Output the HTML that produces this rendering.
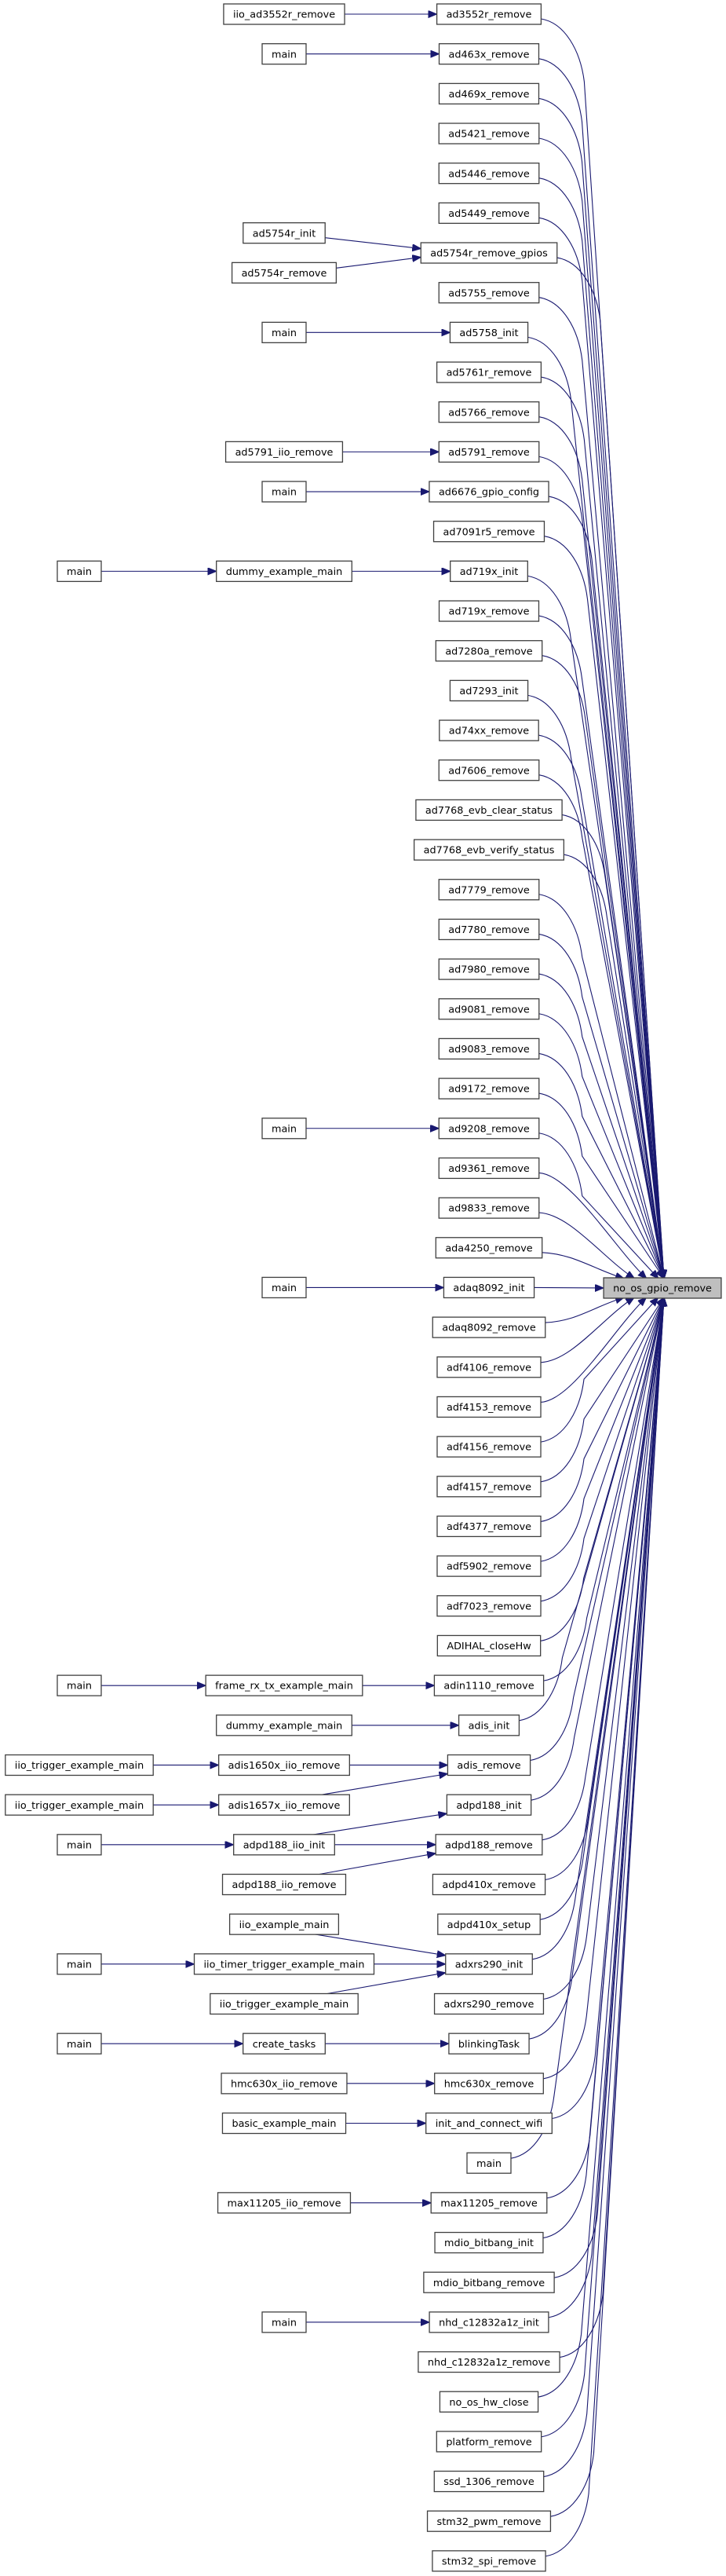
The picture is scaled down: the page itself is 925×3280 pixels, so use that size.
<!DOCTYPE html>
<html><head><meta charset="utf-8"><style>
html,body{margin:0;padding:0;background:#fff;}
svg{display:block;}
text{font-family:"DejaVu Sans","Liberation Sans",sans-serif;font-size:12.8px;fill:#000;}
</style></head><body>
<svg id="g" width="925" height="3280" viewBox="0 0 925 3280" xmlns="http://www.w3.org/2000/svg">
<defs><marker id="ah" markerUnits="userSpaceOnUse" markerWidth="12" markerHeight="10" refX="11" refY="4.5" orient="auto"><path d="M0,0 L11,4.5 L0,9 z" fill="#191970" stroke="#191970"/></marker></defs>
<g id="edges" fill="none" stroke="#191970" stroke-width="1.1"></g>
<g id="nodes"></g>
</svg>
<script>
var NS="http://www.w3.org/2000/svg";
function Y(r){return 18+50.67*r;}
var main=["ad3552r_remove","ad463x_remove","ad469x_remove","ad5421_remove","ad5446_remove","ad5449_remove","ad5754r_remove_gpios","ad5755_remove","ad5758_init","ad5761r_remove","ad5766_remove","ad5791_remove","ad6676_gpio_config","ad7091r5_remove","ad719x_init","ad719x_remove","ad7280a_remove","ad7293_init","ad74xx_remove","ad7606_remove","ad7768_evb_clear_status","ad7768_evb_verify_status","ad7779_remove","ad7780_remove","ad7980_remove","ad9081_remove","ad9083_remove","ad9172_remove","ad9208_remove","ad9361_remove","ad9833_remove","ada4250_remove","adaq8092_init","adaq8092_remove","adf4106_remove","adf4153_remove","adf4156_remove","adf4157_remove","adf4377_remove","adf5902_remove","adf7023_remove","ADIHAL_closeHw","adin1110_remove","adis_init","adis_remove","adpd188_init","adpd188_remove","adpd410x_remove","adpd410x_setup","adxrs290_init","adxrs290_remove","blinkingTask","hmc630x_remove","init_and_connect_wifi","main","max11205_remove","mdio_bitbang_init","mdio_bitbang_remove","nhd_c12832a1z_init","nhd_c12832a1z_remove","no_os_hw_close","platform_remove","ssd_1306_remove","stm32_pwm_remove","stm32_spi_remove"];
var nodes={};var nodeG=document.getElementById("nodes"),edgeG=document.getElementById("edges");
function addNode(id,label,cx,cy,fill){
  var t=document.createElementNS(NS,"text");t.textContent=label;
  t.setAttribute("x",cx);t.setAttribute("y",cy+4.6);t.setAttribute("text-anchor","middle");
  nodeG.appendChild(t);
  var w=t.getComputedTextLength()+24;
  var r=document.createElementNS(NS,"rect");
  r.setAttribute("x",cx-w/2);r.setAttribute("y",cy-13);r.setAttribute("width",w);r.setAttribute("height",26);
  r.setAttribute("fill",fill||"#fff");r.setAttribute("stroke","#404040");r.setAttribute("stroke-width","1.3");
  nodeG.insertBefore(r,t);
  nodes[id]={l:cx-w/2,r:cx+w/2,y:cy};
}
function path(d){var p=document.createElementNS(NS,"path");p.setAttribute("d",d);p.setAttribute("marker-end","url(#ah)");edgeG.appendChild(p);}
addNode("T","no_os_gpio_remove",844,1640,"#bfbfbf");
main.forEach(function(n,i){addNode("m"+i,n,623,Y(i));});
// side nodes: [id,label,cx,row,targets]
var C2=362,C3=101;
var side=[
["a","iio_ad3552r_remove",C2,0,["m0"]],
["b","main",C2,1,["m1"]],
["c","ad5754r_init",C2,5.5,["m6"]],
["d","ad5754r_remove",C2,6.5,["m6"]],
["e","main",C2,8,["m8"]],
["f","ad5791_iio_remove",C2,11,["m11"]],
["g","main",C2,12,["m12"]],
["h","dummy_example_main",C2,14,["m14"]],
["h3","main",C3,14,["h"]],
["i","main",C2,28,["m28"]],
["j","main",C2,32,["m32"]],
["k","frame_rx_tx_example_main",C2,42,["m42"]],
["k3","main",C3,42,["k"]],
["l","dummy_example_main",C2,43,["m43"]],
["n","adis1650x_iio_remove",C2,44,["m44"]],
["n3","iio_trigger_example_main",C3,44,["n"]],
["o","adis1657x_iio_remove",C2,45,["m44"]],
["o3","iio_trigger_example_main",C3,45,["o"]],
["p","adpd188_iio_init",C2,46,["m45","m46"]],
["p3","main",C3,46,["p"]],
["q","adpd188_iio_remove",C2,47,["m46"]],
["r","iio_example_main",C2,48,["m49"]],
["s","iio_timer_trigger_example_main",C2,49,["m49"]],
["s3","main",C3,49,["s"]],
["u","iio_trigger_example_main",C2,50,["m49"]],
["v","create_tasks",C2,51,["m51"]],
["v3","main",C3,51,["v"]],
["w","hmc630x_iio_remove",C2,52,["m52"]],
["x","basic_example_main",C2,53,["m53"]],
["y","max11205_iio_remove",C2,55,["m55"]],
["z","main",C2,58,["m58"]]
];
side.forEach(function(s){addNode(s[0],s[1],s[2],Y(s[3]));});
side.forEach(function(s){
  var a=nodes[s[0]];
  s[4].forEach(function(t){
    var b=nodes[t];var dy=b.y-a.y;
    if(Math.abs(dy)<2){path("M"+a.r+","+a.y+" L"+b.l+","+b.y);}
    else{
      var ys=a.y+(dy>0?12:-12)*(Math.abs(dy)>30?1:0.5), ye=b.y-(dy>0?11:-11)*(Math.abs(dy)>30?1:0.5);
      var xs=a.r-(Math.abs(dy)>30?45:0);
      if(Math.abs(dy)>30){xs=a.r-Math.min(45,(a.r-a.l)*0.25);}
      path("M"+xs+","+ys+" L"+b.l+","+ye);
    }
  });
});
var T=nodes.T;
main.forEach(function(n,i){
  var a=nodes["m"+i];var dy=a.y-T.y;var d=Math.abs(dy);
  if(d<2){path("M"+a.r+","+a.y+" L"+T.l+","+T.y);return;}
  var s=dy>0?1:-1;
  var xe=768+Math.min(78,10+d*0.3);var ye=T.y+s*12;
  if(d<60){xe=795;}
  var x0=a.r,y0=a.y-s*6;
  if(d<160){
    path("M"+x0+","+y0+" C"+(x0+40)+","+(y0-s*2)+" "+(xe-40)+","+(ye+s*(d*0.25))+" "+xe+","+ye);
  } else {
    var bx=x0+55,by=y0-s*80;
    path("M"+x0+","+y0+" C"+(x0+30)+","+(y0-s*5)+" "+(x0+50)+","+(y0-s*40)+" "+bx+","+by+" L"+xe+","+ye);
  }
});
</script>
</body></html>
